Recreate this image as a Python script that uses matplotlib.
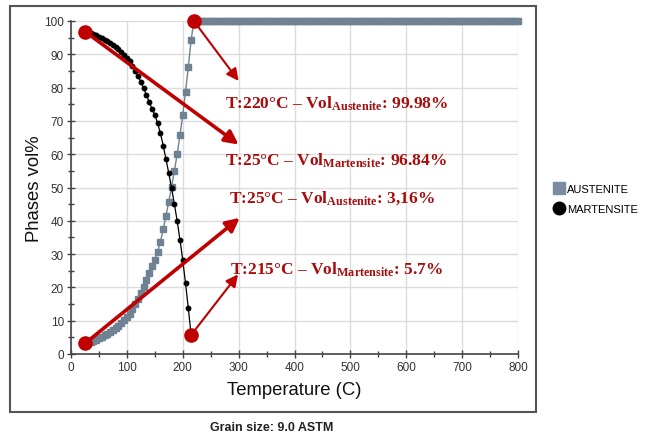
import matplotlib
matplotlib.use("Agg")
import matplotlib.pyplot as plt
from matplotlib.lines import Line2D
from matplotlib.patches import Rectangle
from matplotlib.ticker import MultipleLocator

# Temperatures (C) of the cooling/heating steps
temps_transform = list(range(25, 220, 5))
# Martensite phase fraction (vol%) over the transformation range
martensite = [96.84, 96.6, 96.3, 96.0, 95.7, 95.3, 94.9, 94.4, 93.9, 93.4,
              92.8, 92.2, 91.5, 90.7, 89.9, 89.0, 87.9, 86.6, 85.1, 83.5,
              81.7, 79.8, 77.8, 75.7, 73.6, 71.8, 69.3, 66.3, 62.6, 58.5,
              54.3, 49.8, 45.0, 40.0, 34.3, 28.2, 21.2, 13.7, 5.7]
# Austenite phase fraction (vol%) over the same range
austenite_transform = [3.16, 3.4, 3.7, 4.0, 4.3, 4.7, 5.1, 5.6, 6.1, 6.6,
                       7.2, 7.8, 8.5, 9.3, 10.1, 11.0, 12.1, 13.4, 14.9, 16.5,
                       18.3, 20.2, 22.2, 24.3, 26.4, 28.2, 30.7, 33.7, 37.4, 41.5,
                       45.7, 50.2, 55.0, 60.0, 65.7, 71.8, 78.8, 86.3, 94.3]
# Fully austenitic above 220 C
temps_full = list(range(220, 805, 5))
austenite_full = [99.98] + [100.0] * (len(temps_full) - 1)

austenite_temps = temps_transform + temps_full
austenite = austenite_transform + austenite_full

# Highlighted points and their labels
highlights = [
    # (T, vol, arrow target T, arrow target vol, line width, label, label x, label y)
    (220, 99.98, 300, 82.0, 1.5, r"T:220°C – Vol$_{\mathrm{Austenite}}$: 99.98%", 275, 74.1),
    (25, 96.84, 300, 62.9, 2.6, r"T:25°C – Vol$_{\mathrm{Martensite}}$: 96.84%", 275, 57.0),
    (25, 3.16, 302, 40.9, 2.6, r"T:25°C – Vol$_{\mathrm{Austenite}}$: 3,16%", 282, 45.8),
    (215, 5.7, 299, 23.9, 1.5, r"T:215°C – Vol$_{\mathrm{Martensite}}$: 5.7%", 285, 24.1),
]

plt.rcParams["font.family"] = ["Liberation Sans", "DejaVu Sans"]
plt.rcParams["mathtext.fontset"] = "custom"
plt.rcParams["mathtext.rm"] = "Liberation Serif:bold"
plt.rcParams["mathtext.bf"] = "Liberation Serif:bold"
plt.rcParams["mathtext.it"] = "Liberation Serif:bold"

W, H = 646, 439
fig = plt.figure(figsize=(W / 100, H / 100), dpi=100)
ax = fig.add_axes([71 / W, 1 - 355 / H, (518 - 71) / W, (355 - 22) / H])

aus_color = "#6f8292"
red = "#c00000"
text_red = "#a80c0c"

ax.plot(austenite_temps, austenite, color=aus_color, lw=1.0, marker="s",
        ms=5.0, mec=aus_color, mfc=aus_color, clip_on=False, zorder=3)
ax.plot(temps_transform, martensite, color="black", lw=0.9, marker="o",
        ms=3.2, mec="black", mfc="black", clip_on=False, zorder=4)

for t, v, tx, tv, lw, label, lx, ly in highlights:
    ax.annotate("", xy=(tx, tv), xytext=(t, v),
                arrowprops=dict(arrowstyle="-|>", color=red, lw=lw,
                                mutation_scale=15 + 2 * lw,
                                shrinkA=0, shrinkB=0),
                zorder=6, annotation_clip=False)
    ax.plot([t], [v], marker="o", ms=9.5, color=red, mec=red,
            clip_on=False, zorder=7)
    ax.text(lx, ly, label, color=text_red, fontsize=12.5,
            family=["Liberation Serif", "DejaVu Serif"], fontweight="bold",
            ha="left", va="baseline", zorder=8)

ax.set_xlim(0, 800)
ax.set_ylim(0, 100)
ax.xaxis.set_major_locator(MultipleLocator(100))
ax.xaxis.set_minor_locator(MultipleLocator(50))
ax.yaxis.set_major_locator(MultipleLocator(10))
ax.yaxis.set_minor_locator(MultipleLocator(5))
ax.grid(True, which="major", color="#dcdcdc", lw=1.0)
ax.set_axisbelow(True)
for side in ("top", "right"):
    ax.spines[side].set_visible(False)
for side in ("left", "bottom"):
    ax.spines[side].set_color("#444444")
    ax.spines[side].set_linewidth(1.2)
ax.tick_params(which="major", direction="inout", length=6, width=1,
               color="#444444", labelsize=8.5, labelcolor="#333333", pad=2)
ax.tick_params(which="minor", direction="inout", length=4, width=1,
               color="#444444")

ax.set_xlabel("Temperature (C)", fontsize=13.3, color="#111111", labelpad=6)
ax.set_ylabel("Phases vol%", fontsize=13.3, color="#111111", labelpad=1)

handles = [
    Line2D([], [], ls="none", marker="s", ms=9.0, color="#7b8ca2"),
    Line2D([], [], ls="none", marker="o", ms=9.0, color="black"),
]
fig.legend(handles, ["AUSTENITE", "MARTENSITE"], loc="upper left",
           bbox_to_anchor=(554 / W, 1 - 185 / H), frameon=False,
           fontsize=8, handlelength=0.9, handletextpad=0.3,
           labelspacing=0.9, borderpad=0, borderaxespad=0)

fig.add_artist(Rectangle((10 / W, 1 - 413 / H), 526 / W, 406 / H,
                         transform=fig.transFigure, fill=False,
                         edgecolor="#555555", lw=1.5))

fig.text(272 / W, 1 - 428 / H, "Grain size: 9.0 ASTM", ha="center",
         va="center", fontsize=9,
         family=["Liberation Sans Narrow", "Liberation Sans", "DejaVu Sans"],
         fontweight="bold", color="#222222")

fig.savefig("out.png", dpi=100)
